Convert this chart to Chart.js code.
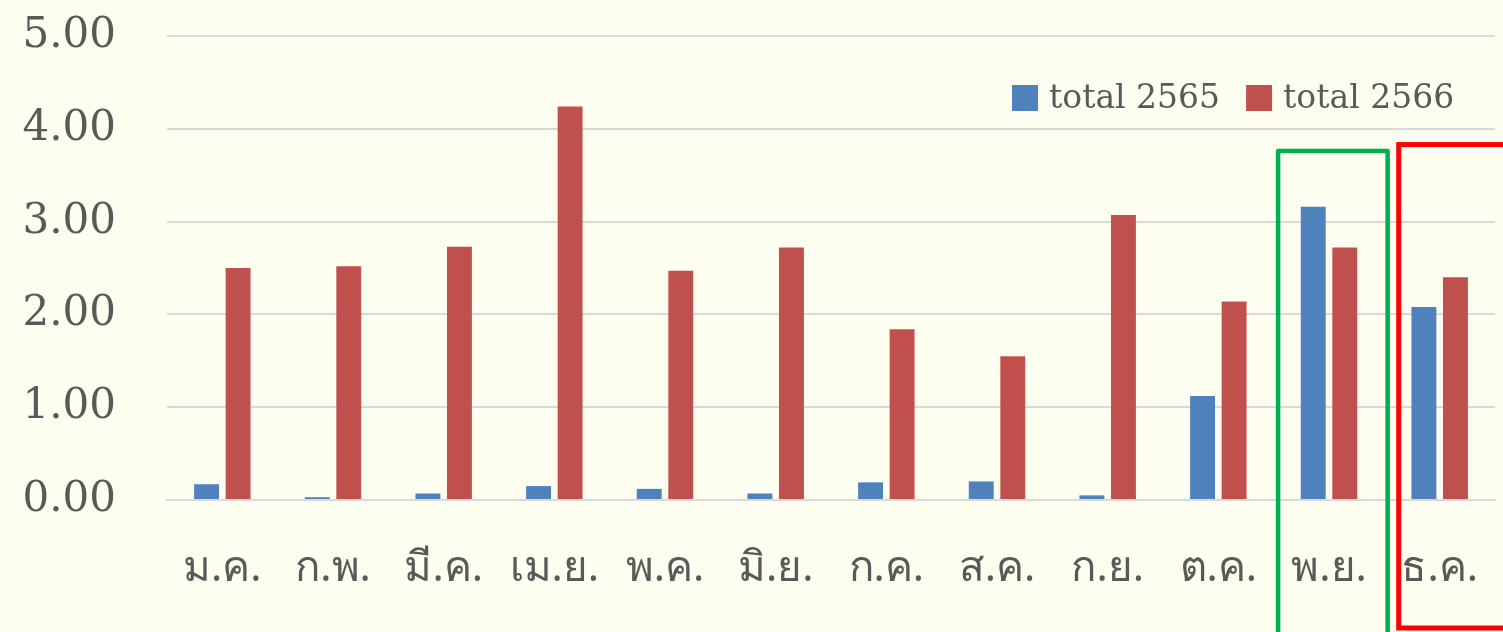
<!DOCTYPE html>
<html>
<head>
<meta charset="utf-8">
<script src="https://cdn.jsdelivr.net/npm/chart.js@4.4.1/dist/chart.umd.min.js"></script>
<style>
  html, body { margin: 0; padding: 0; background: #fefef0; overflow: hidden; }
  #wrap { width: 1503px; height: 632px; position: relative; }
</style>
</head>
<body>
<div id="wrap"><canvas id="chart"></canvas></div>
<script>
const months = ['ม.ค.', 'ก.พ.', 'มี.ค.', 'เม.ย.', 'พ.ค.', 'มิ.ย.', 'ก.ค.', 'ส.ค.', 'ก.ย.', 'ต.ค.', 'พ.ย.', 'ธ.ค.'];
const total2565 = [0.17, 0.03, 0.07, 0.15, 0.12, 0.07, 0.19, 0.20, 0.05, 1.12, 3.16, 2.08];
const total2566 = [2.50, 2.52, 2.73, 4.24, 2.47, 2.72, 1.84, 1.55, 3.07, 2.14, 2.72, 2.40];
const seriesNames = ['total 2565', 'total 2566'];

const textColor = '#595959';
const gridColor = '#d9d9d9';
const numFont = 'DejaVu Serif';

// legend drawn inside plot area, top right
const insideLegend = {
    id: 'insideLegend',
    afterDraw(chart) {
        const ctx = chart.ctx;
        ctx.save();
        ctx.font = '33px "' + numFont + '"';
        ctx.textBaseline = 'middle';
        let x = 1012;
        const y = 98;
        chart.data.datasets.forEach(ds => {
            ctx.fillStyle = ds.backgroundColor;
            ctx.fillRect(x, y - 13, 26, 26);
            ctx.fillStyle = textColor;
            ctx.fillText(ds.label, x + 37, y + 1);
            x += 37 + ctx.measureText(ds.label).width + 26;
        });
        ctx.restore();
    }
};

// highlight boxes around the last two months
const highlightBoxes = {
    id: 'highlightBoxes',
    afterDraw(chart) {
        const ctx = chart.ctx;
        const xs = chart.scales.x;
        const ys = chart.scales.y;
        const cw = xs.getPixelForValue(1) - xs.getPixelForValue(0);
        ctx.save();
        // green box around พ.ย.
        let cx = xs.getPixelForValue(10);
        ctx.strokeStyle = '#00b050';
        ctx.lineWidth = 4.5;
        ctx.lineJoin = 'round';
        ctx.strokeRect(cx - 0.46 * cw, ys.getPixelForValue(3.76), 0.99 * cw, 500);
        // red box around ธ.ค.
        cx = xs.getPixelForValue(11);
        ctx.strokeStyle = '#ff0000';
        ctx.lineWidth = 5;
        ctx.lineJoin = 'miter';
        const top = ys.getPixelForValue(3.83);
        ctx.strokeRect(cx - 0.37 * cw, top, chart.width, 628 - top);
        ctx.restore();
    }
};

new Chart(document.getElementById('chart'), {
    type: 'bar',
    data: {
        labels: months,
        datasets: [
            { label: seriesNames[0], data: total2565, backgroundColor: '#4f81bd' },
            { label: seriesNames[1], data: total2566, backgroundColor: '#c0504d' }
        ]
    },
    options: {
        responsive: true,
        maintainAspectRatio: false,
        animation: false,
        layout: { padding: { top: 36, right: 8, left: 0, bottom: 0 } },
        datasets: {
            bar: { categoryPercentage: 0.57, barPercentage: 0.79 }
        },
        plugins: {
            legend: { display: false },
            tooltip: { enabled: false }
        },
        scales: {
            x: {
                grid: { display: false, drawTicks: false },
                border: { color: gridColor, width: 2 },
                ticks: {
                    color: textColor,
                    font: { family: 'Noto Sans, DejaVu Sans', size: 42 },
                    padding: 44,
                    maxRotation: 0
                },
                afterFit(scale) {
                    scale.height = 132;
                    scale.paddingLeft = 0;
                    scale.paddingRight = 0;
                }
            },
            y: {
                min: 0,
                max: 5,
                ticks: {
                    stepSize: 1,
                    color: textColor,
                    font: { family: numFont, size: 42 },
                    padding: 51,
                    callback: v => v.toFixed(2)
                },
                grid: { color: gridColor, lineWidth: 2, drawTicks: false },
                border: { display: false },
                afterFit(scale) {
                    scale.width = 167;
                    scale.paddingTop = 0;
                    scale.paddingBottom = 0;
                }
            }
        }
    },
    plugins: [insideLegend, highlightBoxes]
});
</script>
</body>
</html>
